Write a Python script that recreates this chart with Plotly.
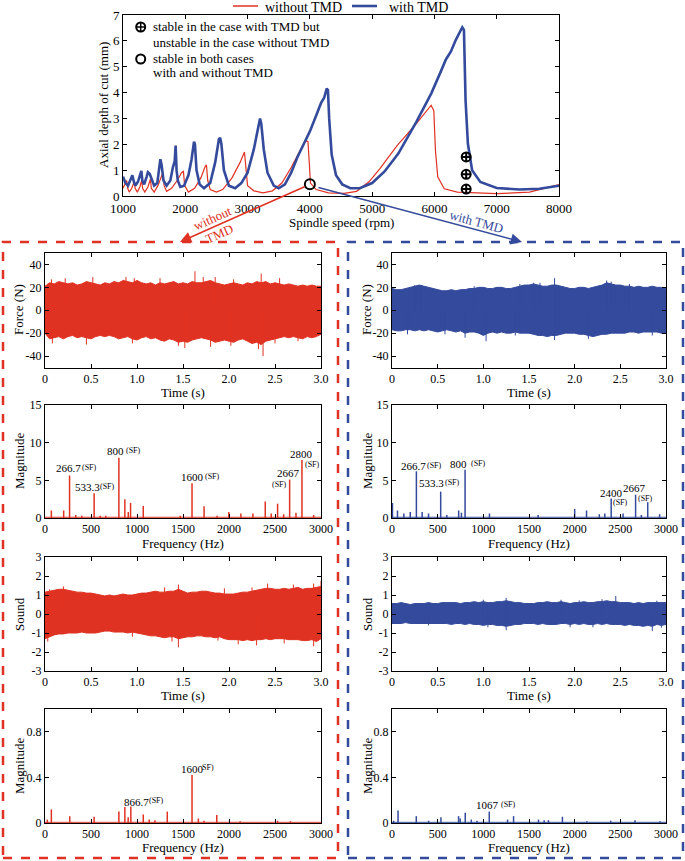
import plotly.graph_objects as go

W, H = 685, 861
RED = "#E03222"
BLUE = "#344A9C"
FONT = "Liberation Serif, Times New Roman, DejaVu Serif, serif"

# ---- stability lobes (top chart)
speed_no_tmd = [1000, 1030, 1060, 1075, 1100, 1140, 1180, 1195, 1230, 1270, 1300, 1315, 1350, 1400, 1440,
                1455, 1500, 1560, 1620, 1640, 1660, 1700, 1780, 1870, 1940, 1970, 1990, 2050, 2150, 2250,
                2320, 2340, 2360, 2400, 2500, 2600, 2750, 2880, 2950, 2970, 3000, 3100, 3250, 3400, 3550,
                3700, 3850, 3930, 3970, 3990, 4010, 4100, 4300, 4550, 4750, 4950, 5125, 5400, 5710, 5947,
                5990, 6016, 6053, 6158, 6368, 7000, 7526, 8000]
depth_no_tmd = [0.3, 0.45, 0.6, 0.3, 0.15, 0.3, 0.55, 0.3, 0.15, 0.35, 0.6, 0.3, 0.15, 0.35, 0.65,
                0.3, 0.15, 0.4, 0.8, 0.9, 0.4, 0.18, 0.3, 0.6, 0.9, 0.95, 0.4, 0.15, 0.3, 0.7,
                1.15, 1.2, 0.6, 0.25, 0.15, 0.25, 0.7, 1.3, 1.7, 1.2, 0.4, 0.2, 0.12, 0.2, 0.5,
                1.1, 1.8, 2.15, 2.1, 1.2, 0.5, 0.25, 0.12, 0.1, 0.18, 0.55, 1.06, 1.95, 2.8, 3.51,
                3.3, 1.77, 0.74, 0.28, 0.15, 0.09, 0.15, 0.44]

speed_tmd = [1000, 1040, 1080, 1110, 1150, 1175, 1200, 1240, 1270, 1295, 1310, 1340, 1380, 1400, 1430,
             1470, 1500, 1550, 1580, 1600, 1620, 1650, 1700, 1760, 1800, 1830, 1845, 1860, 1880, 1920,
             1980, 2050, 2100, 2140, 2155, 2180, 2230, 2300, 2400, 2480, 2540, 2560, 2580, 2620, 2700,
             2800, 2900, 3000, 3100, 3160, 3200, 3220, 3260, 3320, 3420, 3500, 3600, 3700, 3800, 3900,
             4000, 4100, 4180, 4230, 4270, 4290, 4310, 4350, 4420, 4520, 4650, 4800, 5000, 5200, 5420,
             5710, 5950, 6100, 6184, 6263, 6342, 6420, 6447, 6474, 6500, 6537, 6605, 6737, 7000, 7368,
             7684, 8000]
depth_tmd = [0.75, 0.5, 0.4, 0.6, 0.8, 0.55, 0.4, 0.55, 0.8, 0.97, 0.6, 0.45, 0.75, 0.92, 0.85,
             0.6, 0.4, 0.5, 1.0, 1.42, 1.2, 0.6, 0.4, 0.6, 1.1, 1.35, 1.95, 1.0, 0.6, 0.35,
             0.4, 0.8, 1.4, 2.1, 2.0, 1.0, 0.45, 0.3, 0.5, 1.3, 2.2, 2.25, 2.0, 1.0, 0.4,
             0.3, 0.5, 0.9, 1.8, 2.6, 3.0, 2.8, 1.8, 0.9, 0.4, 0.3, 0.45, 0.9, 1.5, 2.0,
             2.5, 3.1, 3.6, 3.8, 4.15, 4.1, 3.0, 1.6, 0.8, 0.45, 0.3, 0.3, 0.5, 0.95, 1.64,
             2.87, 3.97, 4.8, 5.28, 5.58, 6.03, 6.4, 6.52, 6.42, 3.7, 2.03, 1.0, 0.54, 0.31, 0.25,
             0.28, 0.4]

test_speed_tmd_only = [6510, 6510, 6510]
test_depth_tmd_only = [1.51, 0.84, 0.27]
test_speed_both = [4000]
test_depth_both = [0.45]

# ---- time signals: upper / lower envelopes every 0.05 s plus single spikes (t, value)
time_s = [i / 20 for i in range(61)]

force_no_tmd_hi = [21,
                   24, 23, 25, 24, 23, 24, 22, 23, 25, 24,
                   23, 22, 24, 23, 25, 24, 26, 25, 24, 26,
                   24, 23, 24, 22, 24, 23, 24, 25, 23, 24,
                   23, 25, 24, 24, 25, 26, 24, 23, 22, 23,
                   24, 23, 22, 24, 23, 25, 24, 25, 23, 24,
                   23, 22, 23, 22, 21, 22, 21, 22, 21, 21]
force_no_tmd_lo = [-20,
                   -25, -24, -23, -25, -23, -22, -24, -23, -24, -25,
                   -23, -22, -23, -22, -23, -25, -24, -23, -25, -26,
                   -24, -23, -25, -24, -26, -27, -25, -26, -28, -27,
                   -28, -26, -25, -24, -25, -26, -28, -27, -26, -27,
                   -28, -26, -25, -27, -29, -28, -30, -27, -26, -25,
                   -24, -23, -24, -23, -24, -25, -23, -24, -23, -21]
force_no_tmd_spikes = [(0.07, 27), (0.22, 28), (0.52, 29), (0.88, 29), (0.97, 28), (1.25, 28), (1.63, 34),
                       (1.72, 29), (1.85, 29), (2.05, 27), (2.35, 32), (2.55, 28), (0.08, -29), (0.45, -30),
                       (0.95, -29), (1.45, -31), (1.52, -33), (1.8, -32), (2.02, -31), (2.32, -34),
                       (2.37, -40), (2.5, -29), (2.75, -27)]

force_tmd_hi = [19,
                18, 18, 19, 20, 21, 22, 21, 20, 19, 18,
                17, 17, 18, 17, 18, 18, 19, 19, 20, 20,
                19, 19, 20, 20, 19, 19, 20, 21, 22, 22,
                23, 22, 21, 21, 22, 22, 21, 20, 19, 19,
                20, 20, 19, 20, 21, 22, 24, 23, 22, 22,
                21, 21, 20, 21, 20, 20, 21, 20, 20, 19]
force_tmd_lo = [-17,
                -18, -18, -17, -17, -18, -17, -18, -17, -18, -19,
                -18, -17, -18, -19, -18, -20, -19, -19, -20, -22,
                -20, -19, -20, -19, -20, -20, -19, -20, -20, -20,
                -21, -22, -22, -23, -22, -22, -21, -20, -20, -20,
                -21, -21, -22, -23, -22, -21, -21, -20, -20, -20,
                -20, -19, -19, -20, -19, -19, -19, -19, -20, -20]
force_tmd_spikes = [(0.25, 22), (0.32, 22), (0.9, 21), (1.4, 23), (1.55, 24), (1.62, 24), (1.78, 28),
                    (2.35, 26), (2.4, 25), (2.6, 23), (0.17, -21), (0.8, -24), (1.03, -27), (1.35, -22),
                    (1.78, -26), (2.15, -25), (2.85, -22), (0.58, -21)]

sound_no_tmd_hi = [1.15,
                   1.2, 1.25, 1.3, 1.3, 1.25, 1.2, 1.15, 1.15, 1.1, 1.1,
                   1.05, 1.0, 0.95, 1.0, 0.95, 1.0, 1.05, 1.0, 1.0, 1.05,
                   1.1, 1.1, 1.15, 1.2, 1.15, 1.15, 1.2, 1.2, 1.3, 1.2,
                   1.1, 1.15, 1.15, 1.2, 1.2, 1.15, 1.1, 1.1, 1.05, 1.05,
                   1.05, 1.1, 1.15, 1.15, 1.2, 1.25, 1.3, 1.35, 1.35, 1.3,
                   1.3, 1.35, 1.3, 1.35, 1.4, 1.3, 1.35, 1.35, 1.4, 1.45]
sound_no_tmd_lo = [-1.3,
                   -1.2, -1.1, -1.05, -1.05, -1.0, -1.0, -1.0, -0.95, -1.0, -1.0,
                   -1.0, -0.95, -0.9, -0.9, -0.95, -0.95, -0.95, -1.0, -0.95, -1.0,
                   -1.05, -1.1, -1.15, -1.15, -1.2, -1.25, -1.2, -1.2, -1.3, -1.25,
                   -1.2, -1.2, -1.15, -1.15, -1.2, -1.2, -1.25, -1.2, -1.3, -1.35,
                   -1.35, -1.35, -1.4, -1.35, -1.4, -1.35, -1.35, -1.3, -1.35, -1.3,
                   -1.3, -1.3, -1.35, -1.35, -1.35, -1.4, -1.4, -1.35, -1.45, -1.3]
sound_no_tmd_spikes = [(0.05, 1.3), (0.2, 1.45), (1.3, 1.4), (1.45, 1.55), (1.95, 1.35), (2.25, 1.4),
                       (2.42, 1.6), (2.7, 1.55), (2.92, 1.6), (3.0, 1.75), (0.03, -1.45), (0.95, -1.2),
                       (1.38, -1.45), (1.45, -1.75), (1.88, -1.4), (2.1, -1.6), (2.3, -1.65), (2.6, -1.55),
                       (2.92, -1.7)]

sound_tmd_hi = [0.55,
                0.55, 0.6, 0.55, 0.5, 0.55, 0.55, 0.55, 0.6, 0.55, 0.55,
                0.6, 0.6, 0.6, 0.6, 0.55, 0.6, 0.6, 0.65, 0.6, 0.65,
                0.6, 0.6, 0.65, 0.65, 0.7, 0.65, 0.6, 0.6, 0.55, 0.55,
                0.55, 0.6, 0.6, 0.65, 0.6, 0.6, 0.65, 0.6, 0.55, 0.6,
                0.6, 0.65, 0.6, 0.6, 0.65, 0.65, 0.7, 0.65, 0.65, 0.6,
                0.6, 0.6, 0.55, 0.6, 0.55, 0.6, 0.6, 0.6, 0.6, 0.6]
sound_tmd_lo = [-0.5,
                -0.5, -0.5, -0.45, -0.5, -0.5, -0.5, -0.5, -0.5, -0.5, -0.5,
                -0.5, -0.5, -0.55, -0.5, -0.5, -0.55, -0.5, -0.55, -0.55, -0.6,
                -0.55, -0.55, -0.6, -0.6, -0.65, -0.6, -0.55, -0.55, -0.5, -0.5,
                -0.5, -0.55, -0.5, -0.55, -0.55, -0.55, -0.5, -0.5, -0.55, -0.5,
                -0.55, -0.5, -0.55, -0.55, -0.5, -0.55, -0.5, -0.55, -0.55, -0.55,
                -0.6, -0.55, -0.6, -0.6, -0.65, -0.6, -0.65, -0.55, -0.6, -0.55]
sound_tmd_spikes = [(1.0, 0.75), (1.25, 0.85), (1.85, 0.75), (2.05, 0.72), (2.3, 0.78), (2.45, 0.95),
                    (2.9, 0.7), (0.4, -0.6), (1.05, -0.7), (1.25, -0.85), (1.95, -0.7), (2.2, -0.7),
                    (2.85, -0.9), (2.95, -0.72)]

# ---- spectra: peak frequency (Hz) and magnitude
force_fft_no_tmd_f = [69, 203, 267, 334, 400, 534, 600, 660, 803, 868, 905, 930, 1068, 1470, 1598, 1729,
                      1870, 1998, 2129, 2260, 2394, 2459, 2528, 2594, 2659, 2728, 2793, 2920]
force_fft_no_tmd_m = [1.0, 1.0, 5.65, 0.4, 0.3, 3.3, 0.3, 0.3, 8.0, 2.5, 0.8, 2.0, 1.6, 0.3, 4.6, 1.55,
                      0.3, 0.8, 0.6, 0.6, 2.2, 0.6, 1.9, 0.5, 5.1, 0.7, 7.7, 0.4]
force_fft_tmd_f = [5, 60, 130, 200, 267, 330, 400, 533, 600, 730, 760, 800, 1067, 1600, 2000, 2130, 2270,
                   2330, 2400, 2530, 2667, 2730, 2800, 2930]
force_fft_tmd_m = [2.0, 1.0, 0.6, 0.8, 6.2, 0.8, 0.6, 3.5, 0.4, 1.0, 0.7, 6.4, 0.6, 0.4, 1.2, 1.0, 0.5,
                   0.6, 2.6, 0.6, 3.1, 0.4, 2.1, 0.5]
sound_fft_no_tmd_f = [25, 69, 269, 534, 803, 868, 904, 933, 1068, 1133, 1195, 1329, 1598, 1667, 1729,
                      1867, 2121, 2528, 2667]
sound_fft_no_tmd_m = [0.03, 0.12, 0.06, 0.055, 0.1, 0.14, 0.05, 0.145, 0.075, 0.03, 0.025, 0.1, 0.42,
                      0.04, 0.02, 0.07, 0.015, 0.02, 0.015]
sound_fft_tmd_f = [18, 66, 266, 401, 536, 729, 747, 802, 868, 930, 1065, 1265, 1331, 1604, 1666, 1713,
                   1866, 2133, 2395, 2661, 2935]
sound_fft_tmd_m = [0.02, 0.11, 0.06, 0.02, 0.05, 0.06, 0.04, 0.09, 0.03, 0.02, 0.1, 0.03, 0.06, 0.03,
                   0.025, 0.025, 0.055, 0.015, 0.02, 0.025, 0.015]
force_fft_floor = 0.1
sound_fft_floor = 0.006

# peak labels: (text, x, y, size)
force_fft_no_tmd_labels = [("266.7", 255, 6.6, 11), ("(SF)", 484, 6.7, 8), ("533.3", 457, 4.1, 11),
                           ("(SF)", 680, 4.2, 8), ("800", 766, 8.9, 11), ("(SF)", 957, 9.0, 8),
                           ("1600", 1603, 5.4, 11), ("(SF)", 1826, 5.5, 8), ("2667", 2647, 6.0, 11),
                           ("(SF)", 2554, 4.5, 8), ("2800", 2793, 8.5, 11), ("(SF)", 2905, 7.15, 8)]
force_fft_tmd_labels = [("266.7", 235, 6.9, 11), ("(SF)", 465, 7.0, 8), ("533.3", 438, 4.6, 11),
                        ("(SF)", 657, 4.7, 8), ("800", 728, 7.2, 11), ("(SF)", 942, 7.3, 8),
                        ("2400", 2399, 3.3, 11), ("(SF)", 2497, 2.0, 8), ("2667", 2656, 4.0, 11),
                        ("(SF)", 2771, 2.65, 8)]
sound_fft_no_tmd_labels = [("866.7", 995, 0.187, 11), ("(SF)", 1212, 0.195, 8), ("1600", 1598, 0.47, 11),
                           ("SF)", 1777, 0.49, 8)]
sound_fft_tmd_labels = [("1067", 1046, 0.158, 11), ("(SF)", 1276, 0.165, 8)]


def px(x):
    return x / W


def py(y):
    return 1 - y / H


fig = go.Figure()
annotations = []
shapes = []

axis_common = dict(showline=True, linecolor="black", linewidth=1, mirror="ticks", ticks="inside",
                   ticklen=4, tickcolor="black", showgrid=False, zeroline=False, automargin=False)


def set_axes(n, xpix, ypix, xrange, yrange, xtick, ytick, tick_size=12):
    sfx = "" if n == 1 else str(n)
    tf = dict(family=FONT, size=tick_size, color="black")
    fig.layout["xaxis" + sfx] = dict(axis_common, domain=[px(xpix[0]), px(xpix[1])], anchor="y" + sfx,
                                     range=xrange, tickvals=xtick[0], ticktext=xtick[1], tickfont=tf)
    fig.layout["yaxis" + sfx] = dict(axis_common, domain=[py(ypix[1]), py(ypix[0])], anchor="x" + sfx,
                                     range=yrange, tickvals=ytick[0], ticktext=ytick[1], tickfont=tf)


def label(text, x, y, size=13, color="black", angle=0, xref="paper", yref="paper", xanchor="center"):
    annotations.append(dict(text=text, x=x, y=y, xref=xref, yref=yref, showarrow=False, textangle=angle,
                            xanchor=xanchor, yanchor="middle",
                            font=dict(family=FONT, size=size, color=color)))


def add_signal(n, hi, lo, spikes, color):
    xa, ya = "x" + str(n), "y" + str(n)
    fig.add_trace(go.Scatter(x=time_s, y=lo, mode="lines", line=dict(color=color, width=1),
                             xaxis=xa, yaxis=ya, showlegend=False, hoverinfo="skip"))
    fig.add_trace(go.Scatter(x=time_s, y=hi, mode="lines", line=dict(color=color, width=1), fill="tonexty",
                             fillcolor=color, xaxis=xa, yaxis=ya, showlegend=False, hoverinfo="skip"))
    sx, sy = [], []
    for t, v in spikes:
        sx += [t, t, None]
        sy += [0, v, None]
    fig.add_trace(go.Scatter(x=sx, y=sy, mode="lines", line=dict(color=color, width=1),
                             xaxis=xa, yaxis=ya, showlegend=False, hoverinfo="skip"))


def add_spectrum(n, freqs, mags, floor, labels, color):
    xa, ya = "x" + str(n), "y" + str(n)
    fig.add_trace(go.Scatter(x=[0, 3000], y=[floor, floor], mode="lines", line=dict(color=color, width=1),
                             xaxis=xa, yaxis=ya, showlegend=False, hoverinfo="skip"))
    sx, sy = [], []
    for f, m in zip(freqs, mags):
        sx += [f, f, None]
        sy += [0, m, None]
    fig.add_trace(go.Scatter(x=sx, y=sy, mode="lines", line=dict(color=color, width=1.5),
                             xaxis=xa, yaxis=ya, showlegend=False, hoverinfo="skip"))
    for text, x, y, size in labels:
        label(text, x, y, size=size, xref=xa, yref=ya)


# ---- top chart
set_axes(1, (123, 559), (15, 196), [1000, 8000], [0, 7],
         (list(range(1000, 8001, 1000)), [str(v) for v in range(1000, 8001, 1000)]),
         (list(range(0, 8)), [str(v) for v in range(0, 8)]), tick_size=13)
fig.add_trace(go.Scatter(x=speed_no_tmd, y=depth_no_tmd, mode="lines", line=dict(color=RED, width=1.2),
                         showlegend=False, hoverinfo="skip"))
fig.add_trace(go.Scatter(x=speed_tmd, y=depth_tmd, mode="lines", line=dict(color=BLUE, width=2.6),
                         showlegend=False, hoverinfo="skip"))
fig.add_trace(go.Scatter(x=test_speed_tmd_only, y=test_depth_tmd_only, mode="markers",
                         marker=dict(symbol="circle-cross-open", size=9, color="black", line=dict(width=2)),
                         showlegend=False, hoverinfo="skip"))
fig.add_trace(go.Scatter(x=test_speed_both, y=test_depth_both, mode="markers",
                         marker=dict(symbol="circle-open", size=10, color="black", line=dict(width=2)),
                         showlegend=False, hoverinfo="skip"))
label("Axial depth of cut (mm)", px(103), py(105), angle=-90)
label("Spindle speed (rpm)", px(341), py(222))

# top legend
shapes.append(dict(type="line", xref="paper", yref="paper", x0=px(233), x1=px(258), y0=py(6), y1=py(6),
                   line=dict(color=RED, width=1.5)))
label("without TMD", px(263), py(7), size=14, xanchor="left")
shapes.append(dict(type="line", xref="paper", yref="paper", x0=px(352), x1=px(377), y0=py(6), y1=py(6),
                   line=dict(color=BLUE, width=2.6)))
label("with TMD", px(387), py(7), size=14, xanchor="left")

# legend inside top chart
r = 4.5
for cy in (27, 59):
    shapes.append(dict(type="circle", xref="paper", yref="paper", x0=px(140.7 - r), x1=px(140.7 + r),
                       y0=py(cy + r), y1=py(cy - r), line=dict(color="black", width=2)))
shapes.append(dict(type="line", xref="paper", yref="paper", x0=px(140.7 - r), x1=px(140.7 + r),
                   y0=py(27), y1=py(27), line=dict(color="black", width=1.5)))
shapes.append(dict(type="line", xref="paper", yref="paper", x0=px(140.7), x1=px(140.7),
                   y0=py(27 - r), y1=py(27 + r), line=dict(color="black", width=1.5)))
label("stable in the case with TMD but", px(151), py(27), xanchor="left")
label("unstable in the case without TMD", px(151), py(42), xanchor="left")
label("stable in both cases", px(151), py(58), xanchor="left")
label("with and without TMD", px(151), py(73), xanchor="left")

# arrows from the test point to the two panels
annotations.append(dict(x=px(180), y=py(242), xref="paper", yref="paper", ax=126, ay=-56, text="",
                        showarrow=True, arrowhead=2, arrowsize=1.4, arrowwidth=1.6, arrowcolor=RED))
annotations.append(dict(x=px(522), y=py(242), xref="paper", yref="paper", ax=-205, ay=-55, text="",
                        showarrow=True, arrowhead=2, arrowsize=1.4, arrowwidth=1.6, arrowcolor=BLUE))
label("without<br>TMD", px(216), py(226), color=RED, angle=-24)
label("with TMD", px(476), py(221), color=BLUE, angle=15)

# dashed boxes
shapes.append(dict(type="rect", xref="paper", yref="paper", x0=px(3), x1=px(338), y0=py(858), y1=py(242),
                   line=dict(color=RED, width=2.5, dash="dash")))
shapes.append(dict(type="rect", xref="paper", yref="paper", x0=px(348), x1=px(683), y0=py(858), y1=py(242),
                   line=dict(color=BLUE, width=2.5, dash="dash")))

# ---- panels
cols = [(45, 321), (392, 666)]
rows = [(253, 367.5), (405, 518), (557, 671), (709, 823)]
time_ticks = ([0, 0.5, 1, 1.5, 2, 2.5, 3], ["0", "0.5", "1.0", "1.5", "2.0", "2.5", "3.0"])
freq_ticks = (list(range(0, 3001, 500)), [str(v) for v in range(0, 3001, 500)])
force_ticks = ([-40, -20, 0, 20, 40], ["-40", "-20", "0", "20", "40"])
fft1_ticks = ([0, 5, 10, 15], ["0", "5", "10", "15"])
sound_ticks = ([-3, -2, -1, 0, 1, 2, 3], ["-3", "-2", "-1", "0", "1", "2", "3"])
fft2_ticks = ([0, 0.4, 0.8], ["0", "0.4", "0.8"])

for c, ytitle_x in enumerate([19, 367]):
    n0 = 2 + c
    set_axes(n0, cols[c], rows[0], [0, 3], [-50, 50], time_ticks, force_ticks)
    set_axes(n0 + 2, cols[c], rows[1], [0, 3000], [0, 15], freq_ticks, fft1_ticks)
    set_axes(n0 + 4, cols[c], rows[2], [0, 3], [-3, 3], time_ticks, sound_ticks)
    set_axes(n0 + 6, cols[c], rows[3], [0, 3000], [0, 1], freq_ticks, fft2_ticks)
    mid = px((cols[c][0] + cols[c][1]) / 2)
    label("Force (N)", px(ytitle_x), py(310), angle=-90)
    label("Magnitude", px(ytitle_x), py(461), angle=-90)
    label("Sound", px(ytitle_x), py(614), angle=-90)
    label("Magnitude", px(ytitle_x), py(766), angle=-90)
    label("Time (s)", mid, py(392))
    label("Frequency (Hz)", mid, py(543))
    label("Time (s)", mid, py(695))
    label("Frequency (Hz)", mid, py(847))

add_signal(2, force_no_tmd_hi, force_no_tmd_lo, force_no_tmd_spikes, RED)
add_signal(3, force_tmd_hi, force_tmd_lo, force_tmd_spikes, BLUE)
add_spectrum(4, force_fft_no_tmd_f, force_fft_no_tmd_m, force_fft_floor, force_fft_no_tmd_labels, RED)
add_spectrum(5, force_fft_tmd_f, force_fft_tmd_m, force_fft_floor, force_fft_tmd_labels, BLUE)
add_signal(6, sound_no_tmd_hi, sound_no_tmd_lo, sound_no_tmd_spikes, RED)
add_signal(7, sound_tmd_hi, sound_tmd_lo, sound_tmd_spikes, BLUE)
add_spectrum(8, sound_fft_no_tmd_f, sound_fft_no_tmd_m, sound_fft_floor, sound_fft_no_tmd_labels, RED)
add_spectrum(9, sound_fft_tmd_f, sound_fft_tmd_m, sound_fft_floor, sound_fft_tmd_labels, BLUE)

fig.update_layout(width=W, height=H, margin=dict(l=0, r=0, t=0, b=0, autoexpand=False),
                  paper_bgcolor="white", plot_bgcolor="white", annotations=annotations, shapes=shapes,
                  showlegend=False, font=dict(family=FONT, size=13, color="black"))
# the page body has a default 8px margin; drop it so the figure fills the window exactly
fig.write_html("out.html", config={"displayModeBar": False},
               post_script="document.body.style.margin = '0';")
